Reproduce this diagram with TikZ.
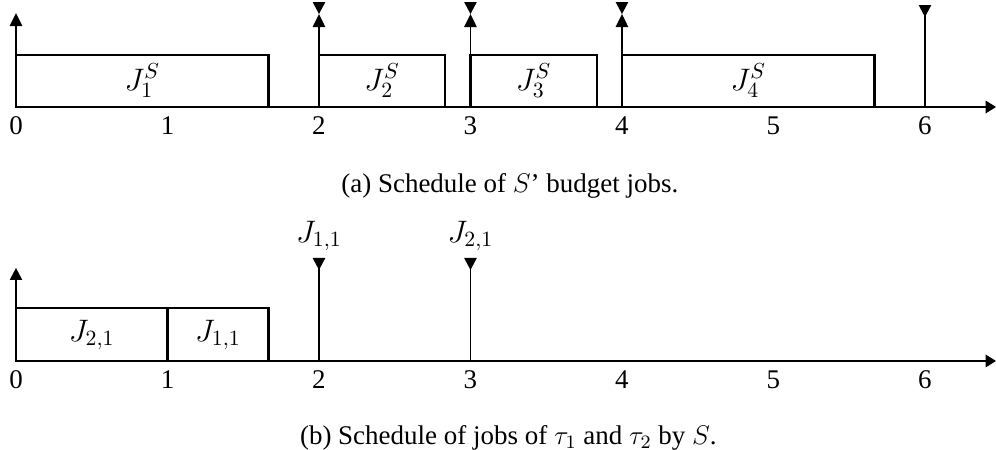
\RequirePackage{fix-cm}
\documentclass[tikz,border=0pt]{standalone}
\usepackage{fontspec}
\setmainfont{Liberation Serif}
\begin{document}
\begin{tikzpicture}[x=2.536cm,y=-0.01674cm,
  axisline/.style={line width=0.65pt},
  jobbox/.style={draw,line width=1pt},
  markline/.style={line width=0.65pt},
  tri/.style={fill=black},
  joblbl/.style={font=\fontsize{14.8}{17}\selectfont},
  ticklbl/.style={font=\fontsize{12.85}{15}\selectfont,inner sep=0pt},
  caption/.style={font=\fontsize{12.85}{15}\selectfont,inner sep=0pt}]
\useasboundingbox (-0.1056,0) rectangle (6.469,450);
\def\tw{0.042}
% ---------- top panel ----------
\coordinate (ao) at (0,107);
\coordinate (ax) at (6.469,107);
\coordinate (ay) at (0,13);
\draw[axisline] (ao) -- (6.40,107);
\fill[tri] (ax) -- (6.40,100.5) -- (6.40,113.5) -- cycle;
\draw[axisline] (ao) -- (0,26);
\fill[tri] (ay) -- (-\tw,26) -- (\tw,26) -- cycle;
% boxes
\draw[jobbox] (0,55) rectangle (5/3,107);
\node[joblbl] (j1) at (5/6,81) {$J_1^S$};
\draw[jobbox] (2,55) rectangle (2+5/6,107);
\node[joblbl] (j2) at (2+5/12,81) {$J_2^S$};
\draw[jobbox] (3,55) rectangle (3+5/6,107);
\node[joblbl] (j3) at (3+5/12,81) {$J_3^S$};
\draw[jobbox] (4,55) rectangle (4+5/3,107);
\node[joblbl] (j4) at (4+5/6,81) {$J_4^S$};
% release/deadline markers
\foreach \t in {2,3,4}{
  \draw[markline] (\t,107) -- (\t,20);
  \fill[tri] (\t,14) -- (\t-\tw,27) -- (\t+\tw,27) -- cycle;
  \fill[tri] (\t,14) -- (\t-\tw,2) -- (\t+\tw,2) -- cycle;
}
\draw[markline] (6,107) -- (6,10);
\fill[tri] (6,17) -- (6-\tw,5) -- (6+\tw,5) -- cycle;
% ticks
\foreach \t in {0,...,6}{
  \node[ticklbl] (ta\t) at (\t,126) {\t};
}
\node[caption] (capa) at (3.26,186) {(a) Schedule of $S$' budget jobs.};
% ---------- bottom panel ----------
\coordinate (bo) at (0,361);
\coordinate (bx) at (6.469,361);
\coordinate (by) at (0,268);
\draw[axisline] (bo) -- (6.40,361);
\fill[tri] (bx) -- (6.40,354.5) -- (6.40,367.5) -- cycle;
\draw[axisline] (bo) -- (0,280);
\fill[tri] (by) -- (-\tw,280) -- (\tw,280) -- cycle;
\draw[jobbox] (0,308) rectangle (1,361);
\node[joblbl] (k21) at (0.5,335) {$J_{2,1}$};
\draw[jobbox] (1,308) rectangle (5/3,361);
\node[joblbl] (k11) at (4/3,335) {$J_{1,1}$};
\foreach \t in {2,3}{
  \draw[markline] (\t,361) -- (\t,262);
  \fill[tri] (\t,270) -- (\t-\tw,258) -- (\t+\tw,258) -- cycle;
}
\node[joblbl] (d11) at (2,236) {$J_{1,1}$};
\node[joblbl] (d21) at (3,236) {$J_{2,1}$};
\foreach \t in {0,...,6}{
  \node[ticklbl] (tb\t) at (\t,380) {\t};
}
\node[caption] (capb) at (3.25,438) {(b) Schedule of jobs of $\tau_1$ and $\tau_2$ by $S$.};
\end{tikzpicture}
\end{document}
